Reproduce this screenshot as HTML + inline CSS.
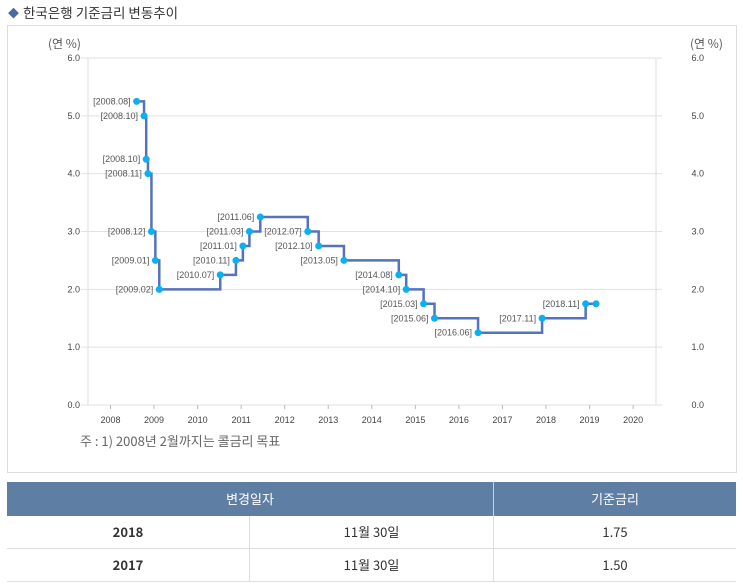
<!DOCTYPE html>
<html><head><meta charset="utf-8">
<style>
body{margin:0;width:743px;height:584px;background:#fff;font-family:"Liberation Sans","Noto Sans CJK KR",sans-serif;overflow:hidden;position:relative}
.title{position:absolute;left:8px;top:2px;font-size:13.5px;color:#333;font-family:"Noto Sans CJK KR","Liberation Sans",sans-serif}
.title span{color:#4a6aa5;font-size:11px;margin-right:4px;position:relative;top:-1px}
.box{position:absolute;left:7px;top:25px;width:728px;height:446px;border:1px solid #ddd}
table{position:absolute;left:7px;top:482px;width:729px;border-collapse:collapse;font-family:"Noto Sans CJK KR","Liberation Sans",sans-serif;font-size:13px;color:#333;line-height:16px}
th{background:#5f7ea3;color:#fff;font-weight:normal;height:34px;padding:0;border-left:1px solid #c8d3e0}
td{height:32px;padding:0;border-bottom:1px solid #ddd;border-left:1px solid #ddd;text-align:center}
</style></head><body>
<div class="title"><span>◆</span>한국은행 기준금리 변동추이</div>
<div class="box"></div>
<svg id="chart" width="743" height="480" style="position:absolute;left:0;top:0"></svg>
<table>
<tr><th colspan="2" style="border-left:none">변경일자</th><th style="width:242px">기준금리</th></tr>
<tr><td style="width:242px;border-left:none;font-weight:bold">2018</td><td>11월 30일</td><td>1.75</td></tr>
<tr><td style="border-left:none;font-weight:bold">2017</td><td>11월 30일</td><td>1.50</td></tr>
</table>
<script>
const labels=["2008.08","2008.10","2008.10","2008.11","2008.12","2009.01","2009.02","2010.07","2010.11","2011.01","2011.03","2011.06","2012.07","2012.10","2013.05","2014.08","2014.10","2015.03","2015.06","2016.06","2017.11","2018.11",""];
const dates=[2008.60,2008.77,2008.82,2008.86,2008.94,2009.03,2009.12,2010.52,2010.88,2011.04,2011.19,2011.44,2012.53,2012.78,2013.36,2014.62,2014.79,2015.19,2015.44,2016.44,2017.91,2018.91,2019.15];
const rates=[5.25,5.00,4.25,4.00,3.00,2.50,2.00,2.25,2.50,2.75,3.00,3.25,3.00,2.75,2.50,2.25,2.00,1.75,1.50,1.25,1.50,1.75,1.75];
const yTicks=[0,1,2,3,4,5,6];
const xTicks=[2008,2009,2010,2011,2012,2013,2014,2015,2016,2017,2018,2019,2020];
const NS="http://www.w3.org/2000/svg",svg=document.getElementById('chart');
const X=v=>110.5+(v-2008)*43.55, Y=v=>405-v*57.83;
function mk(t,a,txt){const e=document.createElementNS(NS,t);for(const k in a)e.setAttribute(k,a[k]);if(txt!==undefined)e.textContent=txt;svg.appendChild(e);return e;}
yTicks.forEach(v=>{
 const g=mk('line',{x1:81,x2:662,y1:Y(v),y2:Y(v),stroke:'#e2e2e2'});
 
 
 const l=mk('text',{x:80,y:Y(v)+3,'text-anchor':'end','font-size':9,fill:'#444'},v.toFixed(1));
 
 
 const r=mk('text',{x:704,y:Y(v)+3,'text-anchor':'end','font-size':9,fill:'#444'},v.toFixed(1));
 
 
});
mk('line',{x1:88,x2:88,y1:58,y2:405,stroke:'#ddd'});
mk('line',{x1:656,x2:656,y1:58,y2:405,stroke:'#ddd'});
xTicks.forEach(v=>{
 mk('line',{x1:X(v),x2:X(v),y1:405,y2:409,stroke:'#bbb'});
 const t=mk('text',{x:X(v),y:423,'text-anchor':'middle','font-size':9,fill:'#444'},String(v));
 
 
});
const u1=mk('text',{x:48,y:48,'font-size':12,fill:'#555','font-family':'"Noto Sans CJK KR",sans-serif'},'(연 %)');


const u2=mk('text',{x:690,y:48,'font-size':12,fill:'#555','font-family':'"Noto Sans CJK KR",sans-serif'},'(연 %)');


const nt=mk('text',{x:80,y:446,'font-size':13,fill:'#666','font-family':'"Noto Sans CJK KR",sans-serif'},'주 : 1) 2008년 2월까지는 콜금리 목표');


let d='M'+X(dates[0])+' '+Y(rates[0]);
for(let i=1;i<dates.length;i++){d+=' H'+X(dates[i])+' V'+Y(rates[i]);}
const p=mk('path',{d:d,fill:'none',stroke:'#5572be','stroke-width':2.5});


dates.forEach((v,i)=>{
 const c=mk('circle',{cx:X(v),cy:Y(rates[i]),r:3.5,fill:'#0bb0f0'});
 
 
 if(labels[i]){
  const t=mk('text',{x:X(v)-6,y:Y(rates[i])+3,'text-anchor':'end','font-size':9,fill:'#555'},'['+labels[i]+']');
  
  
 }
});
</script>
</body></html>
